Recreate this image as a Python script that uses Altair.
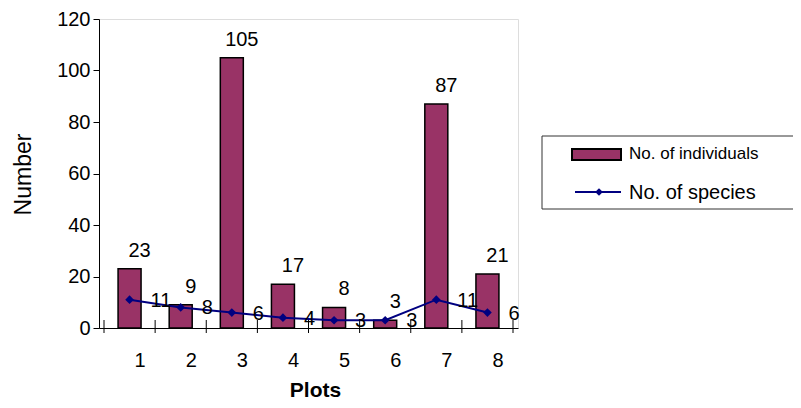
import altair as alt
import pandas as pd

plots = [1, 2, 3, 4, 5, 6, 7, 8]
individuals = [23, 9, 105, 17, 8, 3, 87, 21]
species = [11, 8, 6, 4, 3, 3, 11, 6]
boundaries = [0.5, 1.5, 2.5, 3.5, 4.5, 5.5, 6.5, 7.5, 8.5]
y_ticks = [0, 20, 40, 60, 80, 100, 120]

BAR = "#993366"
NAVY = "#000080"
FONT = "Liberation Sans"

df = pd.DataFrame({"plot": plots, "individuals": individuals, "species": species})
bdf = pd.DataFrame({"b": boundaries})
one = pd.DataFrame({"k": [0]})

xscale = alt.Scale(domain=[0.5, 8.5], nice=False, zero=False)
yscale = alt.Scale(domain=[0, 120], nice=False)

xaxis = alt.Axis(values=plots, ticks=False, grid=False, labelOffset=10, labelPadding=32,
                 labelBaseline="middle", labelFontSize=20, labelFont=FONT, labelColor="black",
                 domainColor="black", title="Plots", titleFont=FONT, titleFontSize=21,
                 titleFontWeight="bold", titleColor="black", titleX=216, titleY=62,
                 titleBaseline="middle", labelAngle=0)
yaxis = alt.Axis(values=y_ticks, grid=False, tickSize=6, tickColor="black", domainColor="black",
                 labelPadding=3, labelFontSize=20, labelFont=FONT, labelColor="black",
                 title="Number", titleFont=FONT, titleFontSize=23, titleFontWeight="normal",
                 titleColor="black", titleX=-76, titleY=155, titleAngle=270,
                 titleBaseline="middle", titleAlign="center")

base = alt.Chart(df)

bars = base.mark_bar(size=23, fill=BAR, stroke="black", strokeWidth=1.5).encode(
    x=alt.X("plot:Q", scale=xscale, axis=xaxis),
    y=alt.Y("individuals:Q", scale=yscale, axis=yaxis),
)

bar_labels = base.mark_text(align="center", baseline="alphabetic", dx=10, dy=-12,
                            fontSize=20, font=FONT, color="black").encode(
    x=alt.X("plot:Q", scale=xscale),
    y=alt.Y("individuals:Q", scale=yscale),
    text="individuals:Q",
)

line = base.mark_line(color=NAVY, strokeWidth=2).encode(
    x=alt.X("plot:Q", scale=xscale),
    y=alt.Y("species:Q", scale=yscale),
)
pts = base.mark_point(shape="diamond", filled=True, color=NAVY, size=75, opacity=1).encode(
    x=alt.X("plot:Q", scale=xscale),
    y=alt.Y("species:Q", scale=yscale),
)
line_labels = base.mark_text(align="left", baseline="middle", dx=21, dy=1,
                             fontSize=20, font=FONT, color="black").encode(
    x=alt.X("plot:Q", scale=xscale),
    y=alt.Y("species:Q", scale=yscale),
    text="species:Q",
)

xticks = alt.Chart(bdf).mark_rule(color="black", strokeWidth=1).encode(
    x=alt.X("b:Q", scale=xscale),
    y=alt.value(301),
    y2=alt.value(314),
)

# legend (box open to the right edge, as in the reference)
leg_fill = alt.Chart(one).mark_rect(fill="white").encode(
    x=alt.value(443), x2=alt.value(720), y=alt.value(117), y2=alt.value(190))
leg_top = alt.Chart(one).mark_rule(color="#333333", strokeWidth=1).encode(
    x=alt.value(443), x2=alt.value(720), y=alt.value(117))
leg_bot = alt.Chart(one).mark_rule(color="#333333", strokeWidth=1).encode(
    x=alt.value(443), x2=alt.value(720), y=alt.value(190))
leg_left = alt.Chart(one).mark_rule(color="#333333", strokeWidth=1).encode(
    x=alt.value(443), y=alt.value(117), y2=alt.value(190))
leg_sw = alt.Chart(one).mark_rect(fill=BAR, stroke="black", strokeWidth=2).encode(
    x=alt.value(473), x2=alt.value(522), y=alt.value(130), y2=alt.value(141))
leg_t1 = alt.Chart(one).mark_text(align="left", baseline="middle", fontSize=17, font=FONT,
                                   color="black", text="No. of individuals").encode(
    x=alt.value(530), y=alt.value(135))
leg_line = alt.Chart(one).mark_rule(color=NAVY, strokeWidth=2).encode(
    x=alt.value(476), x2=alt.value(522), y=alt.value(173))
leg_pt = alt.Chart(one).mark_point(shape="diamond", filled=True, color=NAVY, size=60, opacity=1).encode(
    x=alt.value(500), y=alt.value(173))
leg_t2 = alt.Chart(one).mark_text(align="left", baseline="middle", fontSize=20, font=FONT,
                                   color="black", text="No. of species").encode(
    x=alt.value(530), y=alt.value(174))

chart = alt.layer(
    bars, bar_labels, xticks, line, pts, line_labels,
    leg_fill, leg_top, leg_bot, leg_left, leg_sw, leg_t1, leg_line, leg_pt, leg_t2,
).properties(
    width=419, height=309,
    autosize=alt.AutoSizeParams(type="none"),
    padding={"left": 91, "top": 11, "right": 275, "bottom": 72},
).configure_view(stroke=None).configure(background="white")

chart.save("out.html", embed_options={"renderer": "svg", "actions": False})
